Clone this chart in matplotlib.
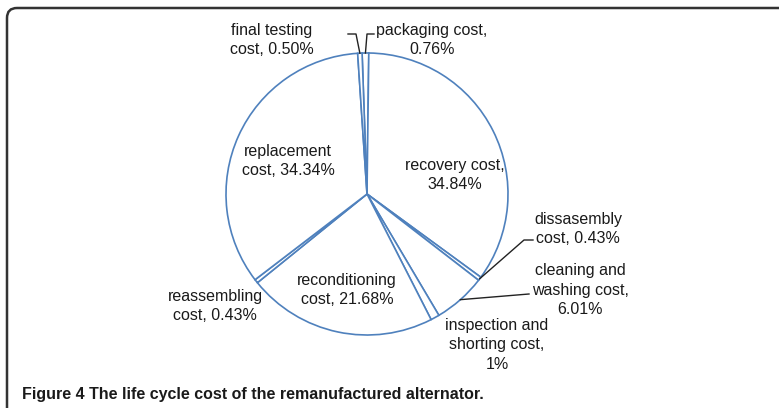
import matplotlib.pyplot as plt
import numpy as np
from matplotlib.patches import FancyBboxPatch

# cost shares of the remanufactured alternator (%), clockwise from the top
names = ["packaging cost", "recovery cost", "dissasembly\ncost", "cleaning and\nwashing cost",
         "inspection and\nshorting cost", "reconditioning\ncost", "reassembling\ncost",
         "replacement\ncost", "final testing\ncost"]
shares = [0.76, 34.84, 0.43, 6.01, 1, 21.68, 0.43, 34.34, 0.50]
share_text = ["0.76%", "34.84%", "0.43%", "6.01%", "1%", "21.68%", "0.43%", "34.34%", "0.50%"]

W, H = 779, 408
fig = plt.figure(figsize=(W / 100, H / 100), dpi=100)
ax = fig.add_axes([0, 0, 1, 1])

cx, cy, r = 367, H - 194, 141
start = 92
ax.pie(shares, center=(cx, cy), radius=r, startangle=start, counterclock=False,
       wedgeprops=dict(facecolor="white", edgecolor="#4F81BD", linewidth=1.2),
       frame=True)
ax.set_xlim(0, W)
ax.set_ylim(0, H)
ax.set_aspect("equal")
ax.axis("off")

# mid angle of every wedge, used for the leader lines
cum = np.cumsum([0] + shares[:-1])
tot = sum(shares)
mid = np.radians(start - 360 * (cum + np.array(shares) / 2) / tot)
edge = [(cx + r * np.cos(a), cy + r * np.sin(a)) for a in mid]

font = dict(family=["Liberation Sans", "DejaVu Sans"], fontsize=11.5, color="#1a1a1a",
            ha="center", va="center", linespacing=1.37)

def label(i, x, y, sep=", "):
    txt = names[i] + sep + share_text[i]
    ax.text(x, H - y, txt, **font)

label(0, 432, 40, sep=",\n")
label(1, 455, 175, sep=",\n")
label(2, 578, 229)
label(3, 580, 290, sep=",\n")
label(4, 497, 345, sep=",\n")
label(5, 347, 290)
label(6, 215, 306)
label(7, 288, 161)
label(8, 272, 40)

# leader lines
lc = dict(color="#222222", lw=1)
ex, ey = edge[8]
ax.plot([348, 356, ex], [H - 34, H - 34, ey], **lc)
ex, ey = edge[0]
ax.plot([374, 367, ex], [H - 34, H - 34, ey], **lc)
ex, ey = edge[2]
ax.plot([533, 524, ex], [H - 240, H - 240, ey], **lc)
ex, ey = edge[3]
ax.plot([529, ex], [H - 294, ey], **lc)

# panel frame
ax.add_patch(FancyBboxPatch((7, -30), 820, H - 8 + 30, boxstyle="round,pad=0,rounding_size=10",
                            facecolor="none", edgecolor="#333333", lw=1.8, clip_on=False))

ax.text(22, H - 394, "Figure 4 The life cycle cost of the remanufactured alternator.",
        family=["Liberation Sans Narrow", "Liberation Sans"], fontweight="bold",
        fontsize=11.5, color="#1a1a1a", ha="left", va="center")

fig.savefig("out.png", dpi=100)
